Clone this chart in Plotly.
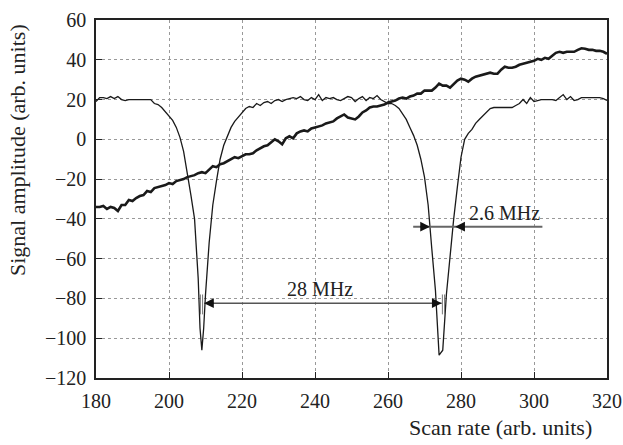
import plotly.graph_objects as go

# ---- data ----
thin_x = [180, 181, 182, 183, 184, 185, 186, 187, 188, 189, 190, 191, 192, 193, 194, 195,
          196, 197, 198, 199, 200, 201, 202, 203, 204, 205, 206, 207, 208, 208.5, 209, 209.5,
          210, 211, 212, 213, 214, 215, 216, 217, 218, 219, 220, 221, 222, 223, 224, 225,
          226, 227, 228, 229, 230, 231, 232, 233, 234, 235, 236, 237, 238, 239, 240, 241,
          242, 243, 244, 245, 246, 247, 248, 249, 250, 251, 252, 253, 254, 255, 256, 257,
          258, 259, 260, 261, 262, 263, 264, 265, 266, 267, 268, 269, 270, 271, 272, 273,
          274, 275, 276, 277, 278, 279, 280, 281, 282, 283, 284, 285, 286, 287, 288, 289,
          290, 291, 292, 293, 294, 295, 296, 297, 298, 299, 300, 301, 302, 303, 304, 305,
          306, 307, 308, 309, 310, 311, 312, 313, 314, 315, 316, 317, 318, 319, 320]
thin_y = [19, 21, 21, 20.5, 21.5, 20.5, 21.5, 20, 19.5, 20, 20, 20, 20, 20, 20, 20,
          18, 17.5, 16, 14, 12, 9.5, 6, 1, -6, -16, -28, -40, -70, -95, -106, -95,
          -78, -52, -33, -21, -10, -3, 2, 6, 9, 11, 13, 15.5, 16.5, 16, 18, 17,
          18.5, 19, 18, 19.5, 20, 19, 20, 20.5, 21, 20.5, 21.5, 20, 19.5, 21, 20, 22.5,
          19.5, 21, 20.5, 21, 20, 19.5, 20.5, 21.5, 21, 19, 20.5, 21.5, 19.5, 21, 20.5, 22,
          20, 19, 18, 18, 17, 15.5, 13, 10, 6, 2, -3, -10, -19, -33, -55, -76,
          -108.5, -106, -78, -58, -40, -24, -9, 0, 3, 5, 8, 10, 12, 14, 15.5, 16,
          16, 16, 16, 16, 16, 17, 18, 20, 18, 21, 19, 19.5, 20, 20, 20, 20,
          19.5, 21, 22.5, 20, 21.5, 19.5, 20, 21, 21, 21, 21, 21, 21, 20.5, 19.5]

thick_x = list(range(180, 321))
thick_y = [-34, -34, -33.5, -35, -34, -34.5, -36, -33, -33, -30.5, -31, -29.5, -28.5, -28, -26, -26.5,
           -24.5, -24, -23.5, -23, -22, -22.5, -21, -20.5, -20, -19, -18.5, -18, -17, -16.5, -17, -15,
           -13.5, -14, -12.5, -12, -11, -10, -9, -9.5, -8.5, -7.5, -7.5, -7, -5.5, -4.5, -3.5, -3,
           -1.5, 0, -1, -2.5, 0.5, 1.5, 0.5, 3, 4, 4.5, 4, 5.5, 6, 6.5, 7, 8,
           8.5, 9, 10.5, 11.5, 12.5, 11, 10.5, 10, 11.5, 13.5, 14.5, 16, 16.5, 16.5, 17, 17.5,
           18.5, 19, 19.5, 20.5, 21, 20.5, 21.5, 22, 23, 23, 24.5, 24.5, 24.5, 26, 28, 27,
           27, 26, 28, 29.5, 30.5, 30, 29, 30.5, 31.5, 32, 32.5, 33, 33.5, 33, 33, 35,
           36.5, 36, 36, 36.5, 37.5, 38, 38.5, 39, 39.5, 40.5, 40, 41, 40.5, 42, 43.5, 44,
           43.5, 44, 44, 44, 45, 45.8, 45.5, 45, 45, 44.5, 44.5, 44, 43]

x_ticks = [180, 200, 220, 240, 260, 280, 300, 320]
y_ticks = [-120, -100, -80, -60, -40, -20, 0, 20, 40, 60]
y_ticktext = [("\u2212" + str(-v)) if v < 0 else str(v) for v in y_ticks]

# annotation values (data coordinates)
wide_label = "28 MHz"
wide_left, wide_right, wide_y = 209.6, 274.7, -82.4
wide_marks = [208.6, 209.2, 274.9, 275.5]
wide_mark_y = (-78, -88)
narrow_label = "2.6 MHz"
narrow_left, narrow_right, narrow_y = 271.5, 278.4, -43.9
narrow_line = (266.9, 302.3)

FONT = "Liberation Serif, Times New Roman, serif"

fig = go.Figure()
fig.add_trace(go.Scatter(x=thin_x, y=thin_y, mode="lines",
                         line=dict(color="#1a1a1a", width=1.3), showlegend=False))
fig.add_trace(go.Scatter(x=thick_x, y=thick_y, mode="lines",
                         line=dict(color="#1a1a1a", width=2.6), showlegend=False))

shapes = []
# 28 MHz line
shapes.append(dict(type="line", xref="x", yref="y", x0=wide_left, x1=wide_right,
                   y0=wide_y, y1=wide_y, line=dict(color="#555555", width=1.5)))
for mx in wide_marks:
    shapes.append(dict(type="line", xref="x", yref="y", x0=mx, x1=mx,
                       y0=wide_mark_y[0], y1=wide_mark_y[1],
                       line=dict(color="#777777", width=1)))
# 2.6 MHz line
shapes.append(dict(type="line", xref="x", yref="y", x0=narrow_line[0], x1=narrow_line[1],
                   y0=narrow_y, y1=narrow_y, line=dict(color="#666666", width=2)))

annotations = []


def arrowhead(xh, yh, xt, yt):
    return dict(x=xh, y=yh, ax=xt, ay=yt, xref="x", yref="y", axref="x", ayref="y",
                showarrow=True, arrowhead=2, arrowsize=1.3, arrowwidth=1.5,
                arrowcolor="#111111", text="")


annotations.append(arrowhead(wide_left, wide_y, wide_left + 3, wide_y))
annotations.append(arrowhead(wide_right, wide_y, wide_right - 3, wide_y))
annotations.append(arrowhead(narrow_left, narrow_y, narrow_left - 3, narrow_y))
annotations.append(arrowhead(narrow_right, narrow_y, narrow_right + 3, narrow_y))

annotations.append(dict(x=241.4, y=wide_y, xref="x", yref="y", text=wide_label,
                        showarrow=False, yanchor="bottom", yshift=1,
                        font=dict(family=FONT, size=20, color="#222222")))
annotations.append(dict(x=292, y=narrow_y, xref="x", yref="y", text=narrow_label,
                        showarrow=False, yanchor="bottom", yshift=1,
                        font=dict(family=FONT, size=20, color="#222222")))

# axis titles
annotations.append(dict(x=(594 - 96) / 511, y=-50 / 358, xref="paper", yref="paper",
                        text="Scan rate (arb. units)", showarrow=False,
                        xanchor="right", yanchor="middle",
                        font=dict(family=FONT, size=22, color="#222222")))
annotations.append(dict(x=(17 - 96) / 511, y=(378 - 150) / 358, xref="paper", yref="paper",
                        text="Signal amplitude (arb. units)", showarrow=False,
                        textangle=-90, xanchor="center", yanchor="middle",
                        font=dict(family=FONT, size=22, color="#222222")))

axis_common = dict(showgrid=True, gridcolor="#999999", griddash="dot", gridwidth=1,
                   showline=True, linecolor="#222222", linewidth=1.5, mirror=True,
                   ticks="inside", ticklen=6, tickcolor="#222222", tickwidth=1.2,
                   zeroline=False, automargin=False,
                   tickfont=dict(family=FONT, size=20, color="#222222"))

fig.update_layout(
    width=623, height=445,
    margin=dict(l=96, r=16, t=20, b=67),
    paper_bgcolor="white", plot_bgcolor="white",
    xaxis=dict(range=[180, 320], tickvals=x_ticks, ticktext=[str(v) for v in x_ticks],
               ticklabelstandoff=4, **axis_common),
    yaxis=dict(range=[-120, 60], tickvals=y_ticks, ticktext=y_ticktext,
               ticklabelstandoff=4, **axis_common),
    shapes=shapes, annotations=annotations,
)

fig.write_html("out.html",
               config={"displayModeBar": False},
               post_script="document.body.style.margin='0px';"
                           "document.body.style.overflow='hidden';")
